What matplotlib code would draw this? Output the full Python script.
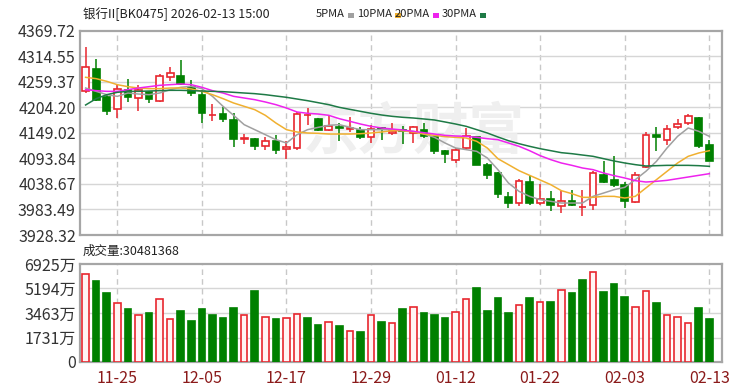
import numpy as np
import matplotlib
matplotlib.use('Agg')
import matplotlib.pyplot as plt
from matplotlib.patches import Rectangle

plt.rcParams['font.family'] = ['Noto Sans CJK SC', 'DejaVu Sans']

# trading days shown (2025-11-20 .. 2026-02-13)
dates = ['11-20', '11-21', '11-24', '11-25', '11-26', '11-27', '11-28',
         '12-01', '12-02', '12-03', '12-04', '12-05', '12-08', '12-09', '12-10',
         '12-11', '12-12', '12-15', '12-16', '12-17', '12-18', '12-19', '12-22',
         '12-23', '12-24', '12-25', '12-26', '12-29', '12-30', '12-31',
         '01-05', '01-06', '01-07', '01-08', '01-09', '01-12', '01-13', '01-14',
         '01-15', '01-16', '01-19', '01-20', '01-21', '01-22', '01-23', '01-26',
         '01-27', '01-28', '01-29', '01-30',
         '02-02', '02-03', '02-04', '02-05', '02-06', '02-09', '02-10', '02-11',
         '02-12', '02-13']

opens = [4240.2, 4287.7, 4225.8, 4201.3, 4242.3, 4224.3, 4237.3, 4218.5, 4269.0, 4272.6,
         4247.4, 4230.1, 4188.5, 4189.7, 4176.8, 4135.0, 4136.4, 4119.9, 4130.7, 4114.8,
         4116.3, 4188.3, 4179.6, 4155.9, 4160.9, 4157.3, 4155.9, 4139.3, 4159.5, 4149.4,
         4155.9, 4148.7, 4155.9, 4139.3, 4109.1, 4091.1, 4116.3, 4139.3, 4080.3, 4062.3,
         4009.7, 3997.4, 4042.8, 3997.4, 4006.8, 3990.2, 4001.1, 3989.0, 3993.8, 4058.7,
         4047.9, 4037.1, 3999.6, 4074.5, 4143.6, 4134.3, 4160.9, 4170.3, 4181.1, 4122.0]
closes = [4290.6, 4220.7, 4196.9, 4243.8, 4225.8, 4240.9, 4222.9, 4272.6, 4278.3, 4254.6,
          4235.1, 4191.9, 4188.5, 4178.9, 4136.4, 4137.9, 4119.9, 4130.7, 4112.7, 4117.7,
          4189.7, 4188.3, 4155.9, 4163.1, 4159.5, 4159.5, 4139.3, 4158.0, 4158.0, 4152.3,
          4153.7, 4161.7, 4141.5, 4110.5, 4103.3, 4112.7, 4141.5, 4080.3, 4057.2, 4016.9,
          3997.4, 4045.7, 3997.4, 4006.8, 3992.4, 4001.1, 3993.8, 3989.0, 4062.3, 4042.8,
          4035.6, 4001.1, 4058.7, 4143.6, 4140.8, 4158.0, 4168.1, 4184.7, 4119.9, 4088.9]
highs = [4333.8, 4309.3, 4231.5, 4251.7, 4266.1, 4251.7, 4240.2, 4276.2, 4290.6, 4305.7,
         4262.5, 4242.3, 4211.3, 4204.1, 4191.9, 4146.5, 4137.9, 4139.3, 4143.6, 4130.7,
         4194.1, 4202.7, 4181.1, 4184.7, 4170.3, 4182.5, 4160.9, 4166.7, 4160.9, 4170.3,
         4163.1, 4163.1, 4170.3, 4143.6, 4112.7, 4116.3, 4159.5, 4140.8, 4083.9, 4064.4,
         4021.2, 4050.0, 4058.7, 4038.5, 4024.1, 4022.7, 4026.3, 4026.3, 4065.9, 4088.9,
         4098.3, 4042.8, 4064.4, 4150.8, 4160.9, 4166.7, 4179.6, 4189.7, 4182.5, 4134.3]
lows = [4235.1, 4218.6, 4188.3, 4181.1, 4215.7, 4195.5, 4213.5, 4215.7, 4260.3, 4253.1,
        4227.9, 4170.3, 4175.4, 4172.5, 4118.4, 4124.9, 4112.7, 4111.2, 4103.3, 4093.2,
        4112.7, 4166.7, 4153.7, 4152.3, 4130.7, 4150.1, 4136.4, 4127.1, 4134.3, 4143.6,
        4124.9, 4127.1, 4137.9, 4103.3, 4083.9, 4083.9, 4114.8, 4078.8, 4050.0, 4008.2,
        3986.6, 3990.2, 3993.8, 3993.8, 3980.9, 3975.8, 3990.2, 3968.6, 3983.1, 4040.6,
        4031.3, 3986.6, 3997.4, 4073.1, 4110.5, 4122.0, 4158.0, 4165.2, 4116.3, 4087.5]

# volume in 万
volumes = [6218, 5723, 4852, 4145, 3721, 3321, 3439, 4428, 3015, 3627,
           2921, 3721, 3321, 3133, 3839, 3321, 5040, 3203, 3015, 3133,
           3392, 3133, 2614, 2826, 2520, 2214, 2120, 3321, 2826, 2732,
           3721, 3910, 3439, 3321, 3133, 3510, 4428, 5205, 3627, 4499,
           3439, 4028, 4499, 4216, 4216, 5088, 4852, 5794, 6383, 4923,
           5511, 4616, 3910, 5017, 4145, 3321, 3203, 2732, 3792, 3048]
vol_up = [1, 0, 0, 1, 0, 1, 0, 1, 1, 0, 0, 0, 0, 0, 0, 1, 0, 1, 0, 1,
          1, 0, 0, 1, 0, 1, 0, 1, 0, 1, 0, 1, 0, 0, 0, 1, 1, 0, 0, 0,
          0, 1, 0, 1, 0, 1, 0, 0, 1, 0, 0, 0, 1, 1, 0, 1, 1, 1, 0, 0]

ma5 = [4245.9, 4238.7, 4231.5, 4227.9, 4235.1, 4232.9, 4231.5, 4235.1, 4242.3, 4247.4,
       4249.5, 4244.5, 4227.9, 4206.3, 4186.9, 4166.7, 4155.9, 4145.1, 4134.3, 4127.1,
       4145.1, 4155.9, 4160.9, 4165.3, 4166.7, 4160.9, 4155.9, 4155.9, 4155.9, 4155.9,
       4153.7, 4152.3, 4146.5, 4139.3, 4127.1, 4116.3, 4112.7, 4109.1, 4094.7, 4069.5,
       4040.6, 4022.6, 4011.8, 4004.6, 4001.1, 3997.4, 3997.4, 3997.4, 4011.8, 4019.0,
       4026.3, 4031.3, 4047.9, 4065.9, 4087.5, 4116.3, 4141.5, 4159.5, 4152.3, 4141.5]
ma10 = [4269.0, 4266.1, 4260.3, 4253.1, 4248.8, 4245.9, 4244.5, 4244.5, 4245.9, 4245.9,
        4243.8, 4238.7, 4231.5, 4222.9, 4213.5, 4206.3, 4199.1, 4186.9, 4170.3, 4155.9,
        4150.8, 4148.7, 4148.0, 4146.5, 4146.5, 4146.5, 4147.2, 4148.7, 4150.8, 4153.7,
        4153.7, 4150.8, 4146.5, 4143.6, 4140.8, 4139.3, 4137.9, 4130.7, 4116.3, 4093.2,
        4080.3, 4067.3, 4057.2, 4047.2, 4037.1, 4024.1, 4017.6, 4009.7, 4009.7, 4011.8,
        4011.8, 4008.2, 4011.8, 4029.9, 4047.9, 4065.9, 4083.9, 4098.3, 4105.5, 4110.5]
ma20 = [4242.3, 4240.2, 4238.7, 4238.7, 4242.3, 4245.9, 4248.8, 4251.7, 4253.1, 4254.6,
        4253.1, 4247.4, 4240.2, 4235.1, 4227.9, 4224.3, 4220.7, 4215.7, 4209.9, 4202.7,
        4194.1, 4191.2, 4189.7, 4186.9, 4179.6, 4173.9, 4168.1, 4163.1, 4159.5, 4157.3,
        4155.2, 4152.3, 4149.4, 4146.5, 4143.6, 4142.2, 4141.5, 4139.3, 4136.4, 4134.3,
        4127.1, 4119.9, 4110.5, 4099.7, 4091.1, 4083.9, 4078.8, 4073.1, 4069.5, 4062.3,
        4056.5, 4051.5, 4045.7, 4042.8, 4044.3, 4046.4, 4050.0, 4053.6, 4057.2, 4060.8]
ma30 = [4209.2, 4222.9, 4231.5, 4236.6, 4238.7, 4238.7, 4239.4, 4240.2, 4240.9, 4240.9,
        4240.2, 4239.4, 4238.7, 4238.0, 4236.6, 4235.1, 4233.7, 4231.5, 4228.6, 4225.8,
        4222.1, 4218.5, 4214.2, 4209.9, 4204.1, 4199.8, 4195.5, 4191.2, 4187.6, 4184.7,
        4182.6, 4181.1, 4179.0, 4176.8, 4172.5, 4168.1, 4163.1, 4155.9, 4148.7, 4140.1,
        4132.1, 4125.6, 4119.9, 4114.8, 4110.5, 4106.2, 4104.0, 4101.1, 4098.3, 4093.2,
        4088.2, 4083.9, 4080.3, 4077.4, 4078.1, 4078.8, 4078.8, 4078.8, 4078.1, 4076.7]

price_ticks = [3928.32, 3983.49, 4038.67, 4093.84, 4149.02, 4204.20, 4259.37, 4314.55, 4369.72]
vol_ticks = [0, 1731, 3463, 5194, 6925]
vol_labels = ['0', '1731万', '3463万', '5194万', '6925万']

RED = '#e8262e'
GREEN = '#008000'
FRAME = '#a6a6a6'
GRID = '#d6d6d6'
ma_colors = ['#a0a0a0', '#f0b030', '#ee22ee', '#1e7a46']
W, H = 750, 391

fig = plt.figure(figsize=(W / 100, H / 100), dpi=100)
ax = fig.add_axes([80 / W, 1 - 235 / H, 642 / W, 204.3 / H])
axv = fig.add_axes([80 / W, 1 - 362 / H, 642 / W, 98 / H])

x = np.arange(len(dates))
tick_idx = x[3::8]

for a in (ax, axv):
    a.set_xlim(-0.53, 60.2)
    for s in a.spines.values():
        s.set_color(FRAME)
        s.set_linewidth(1.6)
    a.tick_params(length=0, labelsize=11.5, colors='#333333', pad=3)
    for t in tick_idx:
        a.axvline(t, color='#c8c8c8', lw=1, ls=(0, (4, 3)), zorder=0)

# price panel
ax.set_ylim(price_ticks[0], price_ticks[-1])
ax.set_yticks(price_ticks)
ax.set_yticklabels(['%.2f' % v for v in price_ticks])
for v in price_ticks[1:-1]:
    ax.axhline(v, color=GRID, lw=1, zorder=0)
ax.set_xticks([])

ax.text(0.52, 0.5, '东方财富', transform=ax.transAxes, fontsize=40, fontweight='bold',
        color='#efefef', ha='center', va='center', zorder=0)

for i in x:
    up = closes[i] >= opens[i]
    c = RED if up else GREEN
    ax.vlines(i, lows[i], highs[i], color=c, lw=1.1, zorder=2)
    lo = min(opens[i], closes[i])
    h = abs(closes[i] - opens[i])
    ax.bar(i, h, bottom=lo, width=0.64, facecolor='white' if up else GREEN,
           edgecolor=c, lw=1.2, zorder=3)

for ma, c in zip([ma5, ma10, ma20, ma30], ma_colors):
    ax.plot(x, ma, color=c, lw=1.1, zorder=4)

# volume panel
axv.set_ylim(0, vol_ticks[-1])
axv.set_yticks(vol_ticks)
axv.set_yticklabels(vol_labels)
for v in vol_ticks[1:-1]:
    axv.axhline(v, color=GRID, lw=1, zorder=0)
for i in x:
    up = vol_up[i] == 1
    axv.bar(i, volumes[i], width=0.62, facecolor='#fff4f4' if up else GREEN,
            edgecolor=RED if up else GREEN, lw=1.2, zorder=3)
axv.set_xticks(tick_idx)
axv.set_xticklabels([dates[t] for t in tick_idx], color='#8b1a1a')
axv.tick_params(axis='x', pad=6)

# header texts
fig.text(83 / W, 1 - 14 / H, '银行II[BK0475] 2026-02-13 15:00', fontsize=9,
         color='#222222', va='center')
marker_x = [348, 395, 433, 480]
for mx, name, c in zip(marker_x, ['5PMA', '10PMA', '20PMA', '30PMA'], ma_colors):
    fig.text((mx - 3) / W, 1 - 14 / H, name, fontsize=8, color='#222222',
             va='center', ha='right')
    fig.add_artist(Rectangle((mx / W, 1 - 18 / H), 6 / W, 5 / H, transform=fig.transFigure,
                             facecolor=c, edgecolor='none'))
fig.text(83 / W, 1 - 251 / H, '成交量:30481368', fontsize=9, color='#222222', va='center')

fig.savefig('out.png', dpi=100)
